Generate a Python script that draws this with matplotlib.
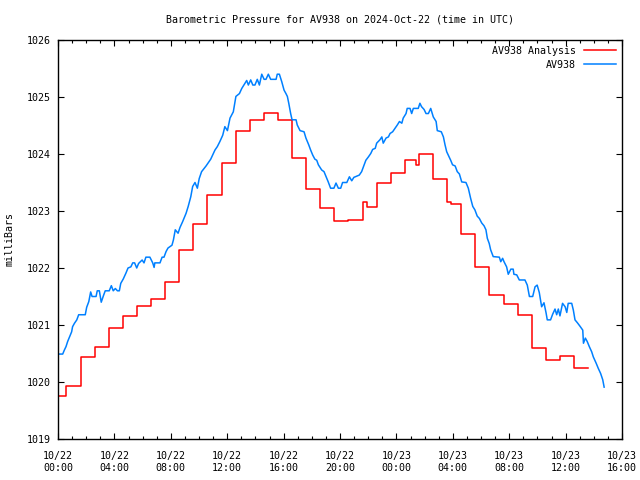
import numpy as np
import matplotlib
matplotlib.use('Agg')
import matplotlib.pyplot as plt
import matplotlib.dates as mdates

# Analysis (hourly steps), hours since 2024-10-22 00:00 UTC
ana_h = [0, 0.6, 1.6, 2.6, 3.6, 4.6, 5.6, 6.6, 7.6, 8.6, 9.6, 10.6, 11.6, 12.6,
         13.6, 14.6, 15.6, 16.6, 17.6, 18.6, 19.6, 20.6, 21.6, 21.9, 22.6, 23.6,
         24.6, 25.4, 25.6, 26.6, 27.6, 27.9, 28.6, 29.6, 30.6, 31.6, 32.6, 33.6,
         34.6, 35.6, 36.6, 37.6]
ana_p = [1019.75, 1019.93, 1020.43, 1020.61, 1020.95, 1021.15, 1021.33, 1021.45,
         1021.75, 1022.31, 1022.77, 1023.28, 1023.84, 1024.40, 1024.60, 1024.72,
         1024.60, 1023.93, 1023.38, 1023.05, 1022.82, 1022.84, 1023.15, 1023.07,
         1023.49, 1023.66, 1023.89, 1023.81, 1024.00, 1023.57, 1023.15, 1023.12,
         1022.59, 1022.01, 1021.52, 1021.36, 1021.17, 1020.60, 1020.39, 1020.46,
         1020.24, 1020.24]

# Observed AV938
obs_h = [0.05, 0.33, 0.45, 0.57, 0.69, 0.80, 0.97, 1.04, 1.16, 1.33, 1.47, 1.94,
         2.04, 2.18, 2.32, 2.41, 2.70, 2.79, 2.93, 3.07, 3.21, 3.35, 3.64, 3.78,
         3.92, 4.06, 4.21, 4.35, 4.45, 4.63, 4.82, 4.96, 5.16, 5.30, 5.44, 5.58,
         5.72, 5.96, 6.10, 6.24, 6.52, 6.72, 6.81, 6.86, 7.23, 7.38, 7.52, 7.66,
         7.80, 8.09, 8.18, 8.32, 8.51, 8.65, 8.84, 9.08, 9.24, 9.41, 9.55, 9.72,
         9.88, 10.02, 10.19, 10.50, 10.83, 11.13, 11.30, 11.49, 11.68, 11.84,
         12.01, 12.20, 12.43, 12.62, 12.86, 13.03, 13.19, 13.38, 13.50, 13.67,
         13.81, 13.97, 14.13, 14.28, 14.45, 14.61, 14.75, 14.91, 15.09, 15.46,
         15.55, 15.70, 15.87, 16.03, 16.17, 16.26, 16.36, 16.50, 16.60, 16.88,
         16.97, 17.16, 17.45, 17.59, 17.78, 17.92, 18.06, 18.21, 18.35, 18.46,
         18.70, 18.87, 19.01, 19.17, 19.34, 19.57, 19.72, 19.88, 20.05, 20.19,
         20.48, 20.66, 20.83, 20.99, 21.18, 21.37, 21.54, 21.65, 21.84, 22.01,
         22.18, 22.32, 22.50, 22.60, 22.84, 22.96, 23.07, 23.26, 23.43, 23.55,
         23.74, 23.90, 24.06, 24.21, 24.38, 24.49, 24.68, 24.77, 24.96, 25.09,
         25.20, 25.55, 25.67, 25.79, 25.96, 26.10, 26.26, 26.43, 26.62, 26.81,
         26.90, 27.18, 27.33, 27.45, 27.57, 27.68, 27.85, 27.99, 28.16, 28.32,
         28.46, 28.63, 28.94, 29.10, 29.27, 29.41, 29.57, 29.74, 29.88, 30.05,
         30.21, 30.35, 30.45, 30.59, 30.69, 30.87, 31.30, 31.40, 31.54, 31.63,
         31.82, 31.94, 32.11, 32.29, 32.34, 32.53, 32.72, 33.12, 33.28, 33.43,
         33.67, 33.83, 33.99, 34.13, 34.30, 34.47, 34.61, 34.70, 34.94, 35.09,
         35.25, 35.37, 35.48, 35.60, 35.79, 35.96, 36.08, 36.19, 36.43, 36.55,
         36.67, 36.83, 37.02, 37.21, 37.26, 37.40, 37.54, 37.68, 37.85, 37.96,
         38.16, 38.32, 38.49, 38.63, 38.74]
obs_p = [1020.49, 1020.49, 1020.56, 1020.62, 1020.71, 1020.78, 1020.88, 1020.97,
         1021.03, 1021.09, 1021.18, 1021.18, 1021.31, 1021.41, 1021.58, 1021.50,
         1021.50, 1021.60, 1021.60, 1021.40, 1021.51, 1021.60, 1021.60, 1021.69,
         1021.60, 1021.64, 1021.60, 1021.60, 1021.73, 1021.81, 1021.91, 1022.00,
         1022.02, 1022.09, 1022.09, 1022.00, 1022.08, 1022.14, 1022.09, 1022.19,
         1022.19, 1022.09, 1022.01, 1022.09, 1022.09, 1022.19, 1022.19, 1022.29,
         1022.35, 1022.40, 1022.49, 1022.67, 1022.61, 1022.71, 1022.81, 1022.96,
         1023.08, 1023.25, 1023.43, 1023.50, 1023.40, 1023.57, 1023.69, 1023.79,
         1023.91, 1024.07, 1024.13, 1024.22, 1024.33, 1024.48, 1024.41, 1024.63,
         1024.74, 1025.01, 1025.06, 1025.15, 1025.21, 1025.29, 1025.21, 1025.30,
         1025.21, 1025.21, 1025.31, 1025.21, 1025.40, 1025.31, 1025.31, 1025.40,
         1025.31, 1025.31, 1025.40, 1025.40, 1025.27, 1025.12, 1025.06, 1025.01,
         1024.89, 1024.71, 1024.60, 1024.60, 1024.51, 1024.41, 1024.39, 1024.28,
         1024.16, 1024.07, 1023.98, 1023.91, 1023.89, 1023.81, 1023.72, 1023.69,
         1023.60, 1023.51, 1023.40, 1023.40, 1023.49, 1023.40, 1023.40, 1023.50,
         1023.50, 1023.60, 1023.53, 1023.59, 1023.61, 1023.63, 1023.69, 1023.77,
         1023.89, 1023.95, 1024.01, 1024.08, 1024.10, 1024.19, 1024.25, 1024.30,
         1024.19, 1024.28, 1024.30, 1024.36, 1024.39, 1024.45, 1024.51, 1024.57,
         1024.54, 1024.63, 1024.71, 1024.80, 1024.80, 1024.71, 1024.80, 1024.80,
         1024.89, 1024.83, 1024.78, 1024.71, 1024.71, 1024.80, 1024.65, 1024.57,
         1024.41, 1024.39, 1024.30, 1024.16, 1024.04, 1023.98, 1023.89, 1023.81,
         1023.79, 1023.69, 1023.65, 1023.51, 1023.50, 1023.40, 1023.22, 1023.08,
         1023.02, 1022.91, 1022.87, 1022.79, 1022.74, 1022.67, 1022.52, 1022.43,
         1022.32, 1022.20, 1022.19, 1022.11, 1022.17, 1022.11, 1022.02, 1021.89,
         1021.98, 1021.98, 1021.89, 1021.88, 1021.79, 1021.79, 1021.70, 1021.50,
         1021.50, 1021.67, 1021.70, 1021.57, 1021.32, 1021.39, 1021.21, 1021.09,
         1021.09, 1021.19, 1021.28, 1021.18, 1021.28, 1021.16, 1021.38, 1021.32,
         1021.22, 1021.38, 1021.38, 1021.26, 1021.09, 1021.04, 1020.98, 1020.91,
         1020.68, 1020.77, 1020.71, 1020.62, 1020.53, 1020.44, 1020.33, 1020.24,
         1020.15, 1020.04, 1019.91]

start = np.datetime64('2024-10-22T00:00')


def to_time(hours):
    return start + (np.array(hours) * 60).round().astype('timedelta64[m]')


plt.rcParams['font.family'] = 'DejaVu Sans Mono'
plt.rcParams['font.size'] = 7.2

fig = plt.figure(figsize=(6.4, 4.8), dpi=100)
ax = fig.add_axes([58 / 640, 41 / 480, 564 / 640, 399 / 480])

ax.plot(to_time(ana_h), ana_p, color='#ff0000', lw=1.1, drawstyle='steps-post',
        label='AV938 Analysis')
ax.plot(to_time(obs_h), obs_p, color='#0080ff', lw=1.1, label='AV938')

ax.set_xlim(start, start + np.timedelta64(40, 'h'))
ax.set_ylim(1019, 1026)
ax.set_yticks(np.arange(1019, 1027, 1))
ax.xaxis.set_major_locator(mdates.HourLocator(byhour=range(0, 24, 4)))
ax.xaxis.set_minor_locator(mdates.HourLocator())
ax.xaxis.set_major_formatter(mdates.DateFormatter('%m/%d\n%H:%M'))
ax.tick_params(which='both', direction='in', top=True, right=True, color='black')
ax.tick_params(which='major', length=4.5, width=0.8)
ax.tick_params(axis='x', which='major', pad=9)
ax.tick_params(axis='y', which='major', pad=5)
ax.tick_params(which='minor', length=2.5, width=0.8)
for s in ax.spines.values():
    s.set_linewidth(1)

ax.set_ylabel('milliBars')
ax.yaxis.set_label_coords(-0.078, 0.5)
ax.set_title('Barometric Pressure for AV938 on 2024-Oct-22 (time in UTC)',
             fontsize=7.2, pad=12.5)
ax.legend(loc='upper right', frameon=False, markerfirst=False, handlelength=3.2,
          borderaxespad=0.2, labelspacing=0.4, handletextpad=0.8)

plt.savefig('out.png', dpi=100)
